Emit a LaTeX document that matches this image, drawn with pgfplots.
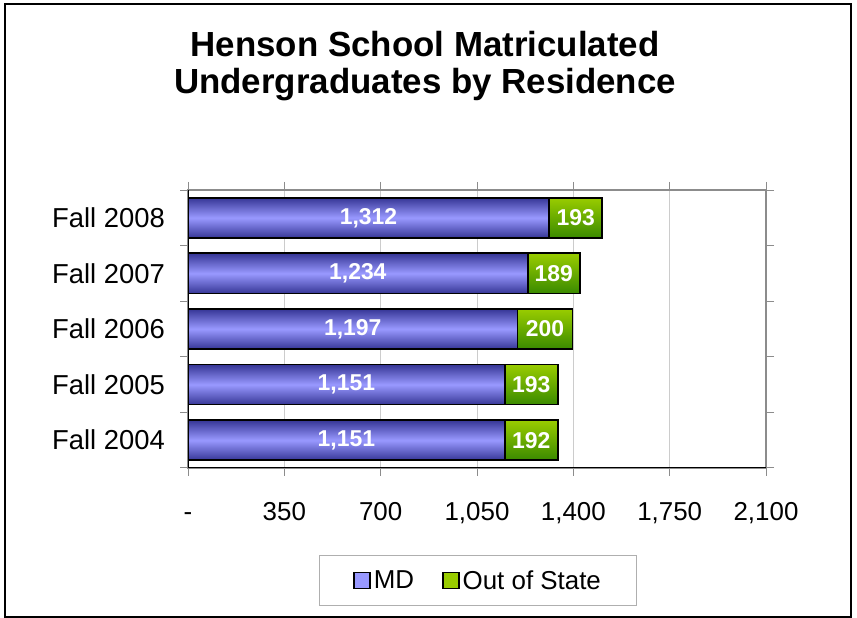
\documentclass[border=0pt]{standalone}
\usepackage{fontspec}
\setmainfont{Liberation Sans}
\usepackage{pgfplots}
\pgfplotsset{compat=1.18}
\definecolor{mdlight}{HTML}{9999FF}
\definecolor{mddark}{HTML}{363696}
\definecolor{oslight}{HTML}{99CC00}
\definecolor{osdark}{HTML}{3A8A00}
\definecolor{gridgray}{HTML}{CCCCCC}
\definecolor{axgray}{HTML}{8C8C8C}
\pgfdeclareverticalshading{mdshade}{100bp}{color(0bp)=(mddark); color(25bp)=(mddark); color(28.81bp)=(mdlight); color(32.62bp)=(mddark); color(35.59bp)=(mddark); color(39.41bp)=(mdlight); color(43.22bp)=(mddark); color(46.19bp)=(mddark); color(50bp)=(mdlight); color(53.81bp)=(mddark); color(56.78bp)=(mddark); color(60.59bp)=(mdlight); color(64.41bp)=(mddark); color(67.38bp)=(mddark); color(71.19bp)=(mdlight); color(75bp)=(mddark); color(100bp)=(mddark)}
\pgfdeclareverticalshading{osshade}{100bp}{color(0bp)=(osdark); color(25bp)=(osdark); color(32.62bp)=(oslight); color(35.59bp)=(osdark); color(43.22bp)=(oslight); color(46.19bp)=(osdark); color(53.81bp)=(oslight); color(56.78bp)=(osdark); color(64.41bp)=(oslight); color(67.38bp)=(osdark); color(75bp)=(oslight); color(100bp)=(oslight)}
\begin{document}
\begin{tikzpicture}
\useasboundingbox (0bp,0bp) rectangle (857bp,618bp);
\draw[line width=2.5bp] (5bp,1bp) rectangle (851bp,614bp);
\begin{axis}[
  at={(188bp,150bp)}, anchor=south west,
  scale only axis, width=578bp, height=278bp,
  xbar stacked, bar width=40bp,
  xmin=0, xmax=2100, ymin=-0.5, ymax=4.5,
  xtick={0,350,...,2100},
  xticklabels={-,350,700,{1,050},{1,400},{1,750},{2,100}},
  ytick={0,...,4},
  yticklabels={Fall 2004,Fall 2005,Fall 2006,Fall 2007,Fall 2008},
  tick align=outside, major tick length=8bp,
  xtick style={draw=axgray, line width=1bp},
  ytick style={draw=none},
  extra y ticks={-0.5,0.5,1.5,2.5,3.5,4.5},
  extra y tick labels={},
  extra y tick style={ytick style={draw=axgray, line width=1bp}},
  xmajorgrids, grid style={gridgray, line width=1bp},
  axis line style={axgray, line width=1.2bp},
  xticklabel style={inner sep=0pt, yshift=-25bp, text height=19bp, text depth=0bp,
    font=\fontsize{26}{26}\selectfont},
  yticklabel style={inner sep=0pt, xshift=-15bp, font=\fontsize{27.5}{27.5}\selectfont},
  title={Henson School Matriculated\\Undergraduates by Residence},
  title style={at={(axis description cs:0.410,1.327)}, anchor=base, align=center,
    font=\bfseries\fontsize{35}{37}\selectfont, inner sep=0pt},
  legend columns=2,
  legend style={at={(axis description cs:0.502,-0.4047)}, anchor=center,
    draw=axgray!70, line width=1bp, font=\fontsize{26}{26}\selectfont,
    inner xsep=34bp, inner ysep=13bp,
    /tikz/every odd column/.append style={column sep=1bp},
    /tikz/every even column/.append style={column sep=26bp}},
  point meta=rawx,
  nodes near coords={\pgfmathprintnumber[fixed,precision=0,1000 sep={,},assume math mode=true]{\pgfplotspointmeta}},
  nodes near coords style={anchor=center, text=white,
    font=\bfseries\fontsize{23}{23}\selectfont},
]
\addplot[draw=black, line width=1.8bp, shade, shading=mdshade, shading angle=0,
  legend image code/.code={\draw[top color=mdlight, bottom color=mdlight, draw=black, line width=1.5bp] (0bp,-8bp) rectangle (16bp,8bp);}]
  coordinates {(1151,0) (1151,1) (1197,2) (1234,3) (1312,4)};
\addplot[draw=black, line width=1.8bp, shade, shading=osshade, shading angle=0,
  legend image code/.code={\draw[top color=oslight, bottom color=oslight, draw=black, line width=1.5bp] (0bp,-8bp) rectangle (16bp,8bp);}]
  coordinates {(192,0) (193,1) (200,2) (189,3) (193,4)};
\legend{MD,Out of State}
\draw[black, line width=1.5bp] (rel axis cs:0,1) -- (rel axis cs:0,0) -- (rel axis cs:1,0);
\end{axis}
\end{tikzpicture}
\end{document}
